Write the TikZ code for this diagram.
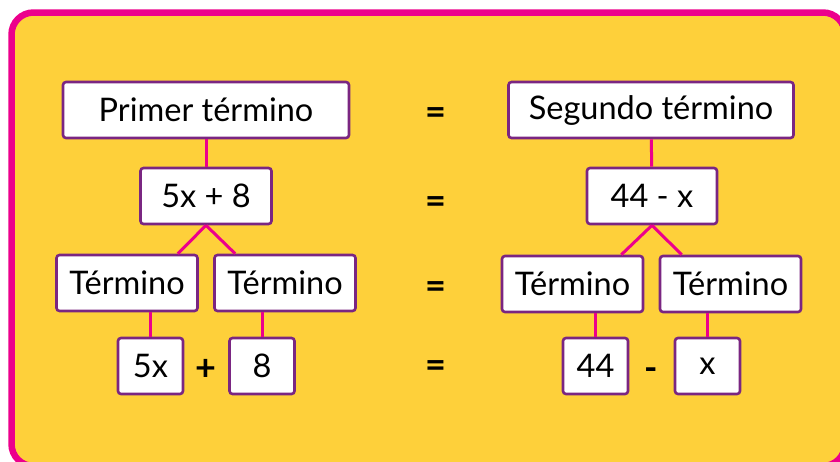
\documentclass[tikz,border=0pt]{standalone}
\usepackage{fontspec}
\setmainfont{Lato}
\usepackage{tikz}
\usetikzlibrary{calc}
\usetikzlibrary{positioning}
\definecolor{fondo}{RGB}{254,208,58}
\definecolor{rosa}{RGB}{236,0,140}
\definecolor{morado}{RGB}{122,38,130}
\tikzstyle{termbox} = [rectangle, rounded corners=3pt, minimum height=56pt, inner sep=0pt, text centered, draw=morado, line width=2.6pt, fill=white, font=\fontsize{32.5}{36}\selectfont]
\tikzstyle{smallbox} = [termbox, minimum width=65pt]
\tikzstyle{signo} = [inner sep=0pt, font=\fontsize{36}{40}\selectfont\bfseries]
\tikzstyle{enlace} = [draw=rosa, line width=3pt]
\tikzstyle{marco} = [draw=rosa, fill=fondo, line width=6.5pt, rounded corners=22pt]

\begin{document}
\begin{tikzpicture}[x=1pt, y=1pt, node distance=86pt]
\useasboundingbox (0,0) rectangle (840,-461);
\draw [marco] (11.5,-12.5) rectangle (845,-466);

% primer miembro
\node (prim) [termbox, minimum width=286pt] at (206,-110) {Primer término};
\node (suma) [termbox, below of=prim, minimum width=131pt] {5x + 8};
\node (terA) [termbox, below of=suma, xshift=-79pt, yshift=-1pt, minimum width=141pt] {Término};
\node (terB) [termbox, below of=suma, xshift=79pt, yshift=-1pt, minimum width=141pt] {Término};
\node (cinco) [smallbox, below of=terA, xshift=23.5pt, yshift=3pt] {5x};
\node (ocho) [smallbox, below of=terB, xshift=-23pt, yshift=3pt] {8};
\node (mas) [signo] at ($(cinco)!0.5!(ocho)+(0,-4)$) {+};

% segundo miembro
\node (seg) [termbox, right of=prim, xshift=359pt, minimum width=285pt] {Segundo término};
\node (resta) [termbox, below of=seg, xshift=1pt, minimum width=130pt] {44 - x};
\node (terC) [termbox, below of=resta, xshift=-79.5pt, yshift=-2pt, minimum width=141pt] {Término};
\node (terD) [termbox, below of=resta, xshift=78.5pt, yshift=-2pt, minimum width=141pt] {Término};
\node (cuarenta) [smallbox, below of=terC, xshift=23pt, yshift=4pt] {44};
\node (equis) [smallbox, below of=terD, xshift=-23pt, yshift=4pt] {x};
\node (menos) [signo] at ($(cuarenta)!0.5!(equis)+(0,-8)$) {-};

% signos igual
\node (eq1) [signo] at (436,-116) {=};
\node (eq2) [signo] at (436,-205) {=};
\node (eq3) [signo] at (436,-290) {=};
\node (eq4) [signo] at (436,-369) {=};

\draw [enlace] (prim) -- (suma);
\draw [enlace] (suma.south) -- ([xshift=-21pt]terA.north east);
\draw [enlace] (suma.south) -- ([xshift=22pt]terB.north west);
\draw [enlace] (cinco.north) -- (cinco.north |- terA.south);
\draw [enlace] (ocho.north) -- (ocho.north |- terB.south);

\draw [enlace] (seg) -- (resta);
\draw [enlace] (resta.south) -- ([xshift=-23pt]terC.north east);
\draw [enlace] (resta.south) -- ([xshift=23pt]terD.north west);
\draw [enlace] (cuarenta.north) -- (cuarenta.north |- terC.south);
\draw [enlace] (equis.north) -- (equis.north |- terD.south);

\end{tikzpicture}
\end{document}
